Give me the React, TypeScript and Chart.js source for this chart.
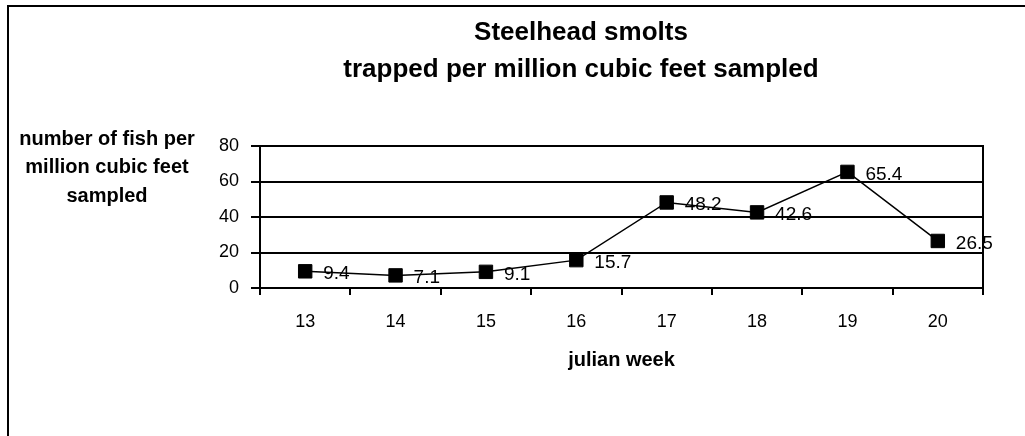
import React, { useEffect, useRef } from "react";
import { Chart, registerables } from "chart.js";

Chart.register(...registerables);

const weeks: string[] = ["13", "14", "15", "16", "17", "18", "19", "20"];
const fishPerMillion: number[] = [9.4, 7.1, 9.1, 15.7, 48.2, 42.6, 65.4, 26.5];
const titleLines: string[] = ["Steelhead smolts", "trapped per million cubic feet sampled"];
const yTitleLines: string[] = ["number of fish per", "million cubic feet", "sampled"];
const xTitle = "julian week";
const yMin = 0;
const yMax = 80;
const yStep = 20;

const FONT = "'Liberation Sans', Arial, Helvetica, sans-serif";

const framePlugin = {
  id: "frame",
  beforeDraw(chart: any) {
    const ctx = chart.ctx;
    ctx.save();
    ctx.fillStyle = "#ffffff";
    ctx.fillRect(0, 0, chart.width, chart.height);
    ctx.strokeStyle = "#000000";
    ctx.lineWidth = 2;
    ctx.strokeRect(1, 1, chart.width - 2, chart.height - 2);
    ctx.restore();
  },
  afterDraw(chart: any) {
    const ctx = chart.ctx;
    const a = chart.chartArea;
    ctx.save();
    // right border of plot area
    ctx.strokeStyle = "#000000";
    ctx.lineWidth = 2;
    ctx.beginPath();
    ctx.moveTo(a.right, a.top - 1);
    ctx.lineTo(a.right, a.bottom + 1);
    ctx.stroke();
    // horizontal y-axis title
    ctx.fillStyle = "#000000";
    ctx.font = `bold 20px ${FONT}`;
    ctx.textAlign = "center";
    ctx.textBaseline = "middle";
    yTitleLines.forEach((line, i) => {
      ctx.fillText(line, 100, a.top - 7 + i * 28.5);
    });
    ctx.restore();
  },
};

const valueLabelPlugin = {
  id: "valueLabels",
  afterDatasetsDraw(chart: any) {
    const ctx = chart.ctx;
    const meta = chart.getDatasetMeta(0);
    const data = chart.data.datasets[0].data as number[];
    ctx.save();
    ctx.fillStyle = "#000000";
    ctx.font = `19px ${FONT}`;
    ctx.textAlign = "left";
    ctx.textBaseline = "middle";
    meta.data.forEach((pt: any, i: number) => {
      ctx.fillText(data[i].toFixed(1), pt.x + 18, pt.y + 2.5);
    });
    ctx.restore();
  },
};

export default function App() {
  const canvasRef = useRef<HTMLCanvasElement | null>(null);

  useEffect(() => {
    if (!canvasRef.current) return;
    const chart = new Chart(canvasRef.current, {
      type: "line",
      data: {
        labels: weeks,
        datasets: [
          {
            data: fishPerMillion,
            borderColor: "#000000",
            borderWidth: 1.5,
            backgroundColor: "#000000",
            pointStyle: "rect",
            pointRadius: 9.5,
            pointBorderWidth: 1,
            pointBackgroundColor: "#000000",
            pointBorderColor: "#000000",
            tension: 0,
            yAxisID: "y",
          },
        ],
      },
      options: {
        responsive: false,
        animation: false,
        devicePixelRatio: 1,
        layout: { padding: { left: 0, right: 0, top: 0, bottom: 113 } },
        plugins: {
          legend: { display: false },
          tooltip: { enabled: false },
          title: {
            display: true,
            text: titleLines,
            color: "#000000",
            font: { family: FONT, size: 26, weight: "bold", lineHeight: 37 / 26 },
            padding: { top: 9.5, bottom: 57.5 },
          },
        },
        scales: {
          x: {
            type: "category",
            offset: true,
            grid: {
              offset: true,
              drawOnChartArea: false,
              drawTicks: true,
              tickLength: 7,
              color: "#000000",
              lineWidth: 2,
            },
            border: { display: true, color: "#000000", width: 2 },
            ticks: {
              color: "#000000",
              font: { family: FONT, size: 18 },
              padding: 16,
              maxRotation: 0,
            },
            title: {
              display: true,
              text: xTitle,
              color: "#000000",
              font: { family: FONT, size: 20, weight: "bold" },
              padding: 0,
            },
            afterFit: (scale: any) => {
              scale.height = 84;
            },
          },
          y: {
            min: yMin,
            max: yMax,
            grid: {
              color: "#000000",
              lineWidth: 2,
              drawTicks: true,
              tickLength: 9,
            },
            border: { display: true, color: "#000000", width: 2 },
            ticks: {
              stepSize: yStep,
              color: "#000000",
              font: { family: FONT, size: 18 },
              padding: 12,
            },
            afterFit: (scale: any) => {
              scale.width = 253;
            },
          },
          yRight: {
            position: "right",
            min: yMin,
            max: yMax,
            grid: { display: false, drawOnChartArea: false, drawTicks: false },
            border: { display: false },
            ticks: { display: false },
            afterFit: (scale: any) => {
              scale.width = 172;
            },
          },
        },
      },
      plugins: [framePlugin, valueLabelPlugin],
    });
    return () => chart.destroy();
  }, []);

  return (
    <div
      style={{
        position: "fixed",
        left: 0,
        top: 0,
        width: 1025,
        height: 436,
        overflow: "hidden",
        background: "#ffffff",
      }}
    >
      <canvas
        ref={canvasRef}
        width={1148}
        height={480}
        style={{ position: "absolute", left: 7, top: 5, width: 1148, height: 480 }}
      />
    </div>
  );
}
